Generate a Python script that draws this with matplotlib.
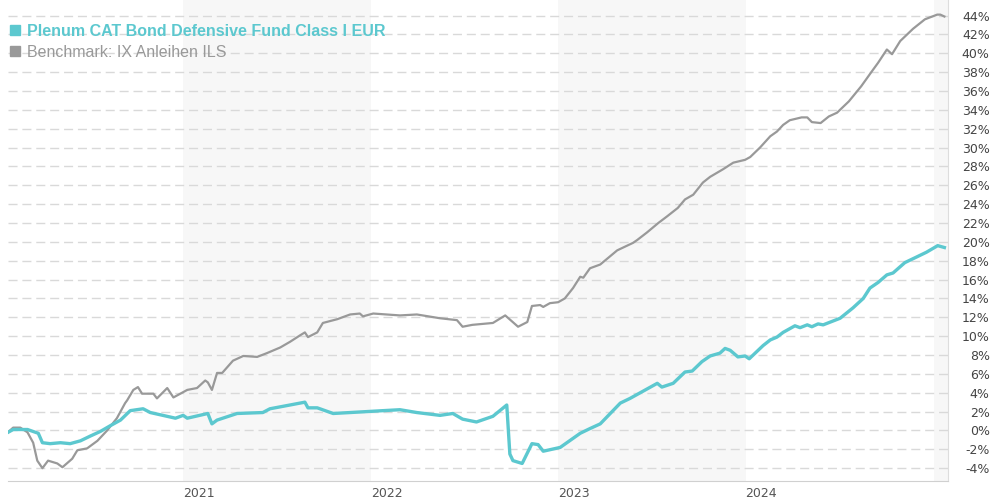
import matplotlib
matplotlib.use("Agg")
import matplotlib.pyplot as plt
from matplotlib.lines import Line2D
import pandas as pd

# Fondsentwicklung in % (seit Auflage)
fund_dates = [
    "2020-01-26", "2020-02-05", "2020-03-04", "2020-03-25", "2020-04-02", "2020-04-17",
    "2020-05-07", "2020-05-26", "2020-06-15", "2020-07-04", "2020-07-24", "2020-08-12",
    "2020-09-01", "2020-09-20", "2020-10-15", "2020-10-29", "2020-12-17", "2021-01-01",
    "2021-01-09", "2021-02-18", "2021-02-26", "2021-03-08", "2021-04-16", "2021-06-05",
    "2021-06-19", "2021-07-28", "2021-08-26", "2021-09-01", "2021-09-19", "2021-10-20",
    "2021-11-22", "2022-01-25", "2022-02-27", "2022-04-01", "2022-05-16", "2022-06-10",
    "2022-06-29", "2022-07-26", "2022-08-27", "2022-09-23", "2022-09-29", "2022-10-05",
    "2022-10-23", "2022-11-11", "2022-11-23", "2022-12-03", "2023-01-05", "2023-02-13",
    "2023-03-04", "2023-03-24", "2023-05-02", "2023-05-21", "2023-07-13", "2023-07-22",
    "2023-08-13", "2023-09-05", "2023-09-19", "2023-10-08", "2023-10-24", "2023-11-12",
    "2023-11-22", "2023-12-02", "2023-12-17", "2023-12-31", "2024-01-08", "2024-02-04",
    "2024-02-18", "2024-03-02", "2024-03-14", "2024-04-06", "2024-04-16", "2024-04-30",
    "2024-05-09", "2024-05-21", "2024-05-31", "2024-07-03", "2024-07-28", "2024-08-17",
    "2024-08-30", "2024-09-15", "2024-10-02", "2024-10-14", "2024-11-06", "2024-11-29",
    "2024-12-18", "2025-01-09", "2025-01-22",
]
fund_values = [
    -0.2, 0.1, 0.1, -0.3, -1.3, -1.4,
    -1.3, -1.4, -1.1, -0.6, -0.1, 0.5,
    1.1, 2.1, 2.3, 1.9, 1.3, 1.6,
    1.3, 1.8, 0.7, 1.1, 1.8, 1.9,
    2.3, 2.7, 3.0, 2.4, 2.4, 1.8,
    1.9, 2.1, 2.2, 1.9, 1.6, 1.8,
    1.2, 0.9, 1.5, 2.7, -2.5, -3.2,
    -3.5, -1.4, -1.5, -2.2, -1.8, -0.3,
    0.2, 0.7, 2.9, 3.4, 5.0, 4.6,
    5.0, 6.2, 6.3, 7.3, 7.9, 8.2,
    8.7, 8.5, 7.8, 7.9, 7.6, 9.0,
    9.6, 9.9, 10.4, 11.1, 10.9, 11.2,
    11.0, 11.3, 11.2, 11.9, 13.0, 14.0,
    15.1, 15.7, 16.5, 16.7, 17.8, 18.4,
    18.9, 19.6, 19.4,
]

# Benchmark in %
bench_dates = [
    "2020-01-26", "2020-02-05", "2020-02-19", "2020-03-04", "2020-03-15", "2020-03-23",
    "2020-04-02", "2020-04-13", "2020-05-01", "2020-05-11", "2020-05-30", "2020-06-09",
    "2020-06-28", "2020-07-18", "2020-08-06", "2020-08-25", "2020-09-10", "2020-09-14",
    "2020-09-26", "2020-10-05", "2020-10-13", "2020-11-04", "2020-11-11", "2020-12-01",
    "2020-12-13", "2021-01-09", "2021-01-28", "2021-02-13", "2021-02-18", "2021-02-26",
    "2021-03-08", "2021-03-18", "2021-04-08", "2021-04-28", "2021-05-25", "2021-06-13",
    "2021-07-09", "2021-07-28", "2021-08-17", "2021-08-26", "2021-09-01", "2021-09-19",
    "2021-09-30", "2021-10-28", "2021-11-22", "2021-12-11", "2021-12-17", "2022-01-06",
    "2022-02-27", "2022-04-01", "2022-05-16", "2022-06-18", "2022-06-29", "2022-07-18",
    "2022-08-27", "2022-09-20", "2022-10-15", "2022-11-02", "2022-11-11", "2022-11-27",
    "2022-12-03", "2022-12-16", "2023-01-01", "2023-01-14", "2023-01-30", "2023-02-13",
    "2023-02-19", "2023-03-04", "2023-03-24", "2023-04-26", "2023-05-27", "2023-06-04",
    "2023-06-23", "2023-07-15", "2023-08-01", "2023-08-22", "2023-09-05", "2023-09-21",
    "2023-10-10", "2023-10-24", "2023-11-18", "2023-12-08", "2023-12-31", "2024-01-10",
    "2024-01-29", "2024-02-18", "2024-03-02", "2024-03-14", "2024-03-27", "2024-04-19",
    "2024-04-30", "2024-05-09", "2024-05-26", "2024-06-11", "2024-06-27", "2024-07-20",
    "2024-08-13", "2024-09-03", "2024-09-15", "2024-10-02", "2024-10-12", "2024-10-28",
    "2024-11-22", "2024-12-15", "2025-01-08", "2025-01-14", "2025-01-22",
]
bench_values = [
    -0.2, 0.3, 0.3, -0.2, -1.3, -3.2,
    -4.0, -3.2, -3.5, -3.9, -3.0, -2.1,
    -1.9, -1.1, 0.0, 1.3, 2.9, 3.2,
    4.3, 4.6, 3.9, 3.9, 3.4, 4.5,
    3.5, 4.3, 4.5, 5.3, 5.1, 4.3,
    6.1, 6.1, 7.4, 7.9, 7.8, 8.2,
    8.8, 9.4, 10.1, 10.4, 9.9, 10.4,
    11.4, 11.8, 12.3, 12.4, 12.1, 12.4,
    12.2, 12.3, 11.9, 11.7, 11.0, 11.2,
    11.4, 12.2, 11.0, 11.5, 13.2, 13.3,
    13.1, 13.5, 13.6, 14.0, 15.1, 16.3,
    16.2, 17.2, 17.6, 19.1, 19.9, 20.2,
    21.0, 22.0, 22.7, 23.6, 24.5, 25.0,
    26.3, 26.9, 27.7, 28.4, 28.7, 29.0,
    30.0, 31.2, 31.7, 32.4, 32.9, 33.2,
    33.2, 32.7, 32.6, 33.3, 33.7, 34.9,
    36.5, 38.1, 39.0, 40.4, 39.9, 41.3,
    42.6, 43.6, 44.1, 44.1, 43.9,
]

fund_label = "Plenum CAT Bond Defensive Fund Class I EUR"
bench_label = "Benchmark: IX Anleihen ILS"
year_ticks = ["2021-01-01", "2022-01-01", "2023-01-01", "2024-01-01"]
year_labels = ["2021", "2022", "2023", "2024"]
y_ticks = list(range(-4, 45, 2))

FUND_COLOR = "#5cc8cf"
BENCH_COLOR = "#999999"

fig = plt.figure(figsize=(9.9, 5), dpi=100)
ax = fig.add_axes([8 / 990, 19 / 500, 940 / 990, 481 / 500])

x_start = pd.Timestamp("2020-01-26")
x_end = pd.Timestamp("2025-01-29")

# jahresweise Hinterlegung
for start, end in [("2021-01-01", "2022-01-01"), ("2023-01-01", "2024-01-01"), ("2025-01-01", "2025-01-29")]:
    ax.axvspan(pd.Timestamp(start), pd.Timestamp(end), color="#f7f7f7", zorder=0, lw=0)

ax.plot(pd.to_datetime(bench_dates), bench_values, color=BENCH_COLOR, lw=1.6, zorder=3,
        solid_joinstyle="round")
ax.plot(pd.to_datetime(fund_dates), fund_values, color=FUND_COLOR, lw=2.4, zorder=4,
        solid_joinstyle="round")

ax.set_xlim(x_start, x_end)
ax.set_ylim(-5.36, 45.65)

ax.set_yticks(y_ticks)
ax.set_yticklabels([f"{v}%" for v in y_ticks])
ax.yaxis.tick_right()
ax.grid(axis="y", color="#d9d9d9", lw=1.0, linestyle=(0, (6.5, 3.5)), zorder=1)
ax.set_axisbelow(True)
ax.tick_params(axis="y", length=0, pad=30, labelsize=9, labelcolor="#444444")
for lbl in ax.get_yticklabels():
    lbl.set_horizontalalignment("right")

ax.set_xticks(pd.to_datetime(year_ticks))
ax.set_xticklabels(year_labels)
ax.tick_params(axis="x", length=0, pad=4, labelsize=9, labelcolor="#555555")
for lbl in ax.get_xticklabels():
    lbl.set_horizontalalignment("left")

for side in ["left", "top"]:
    ax.spines[side].set_visible(False)
ax.spines["bottom"].set_color("#d0d0d0")
ax.spines["right"].set_color("#dddddd")

handles = [
    Line2D([], [], marker="s", linestyle="none", color=FUND_COLOR, markersize=6.5),
    Line2D([], [], marker="s", linestyle="none", color=BENCH_COLOR, markersize=6.5),
]
leg = ax.legend(handles, [fund_label, bench_label], loc="upper left",
                bbox_to_anchor=(9 / 990, 1 - 24 / 500), bbox_transform=fig.transFigure,
                frameon=False, handlelength=0.7, handletextpad=0.4, labelspacing=0.38,
                borderaxespad=0, borderpad=0,
                prop={"family": "Liberation Sans", "size": 11.5})
leg.get_texts()[0].set_color(FUND_COLOR)
leg.get_texts()[0].set_fontweight("bold")
leg.get_texts()[1].set_color(BENCH_COLOR)

fig.savefig("out.png", dpi=100)
